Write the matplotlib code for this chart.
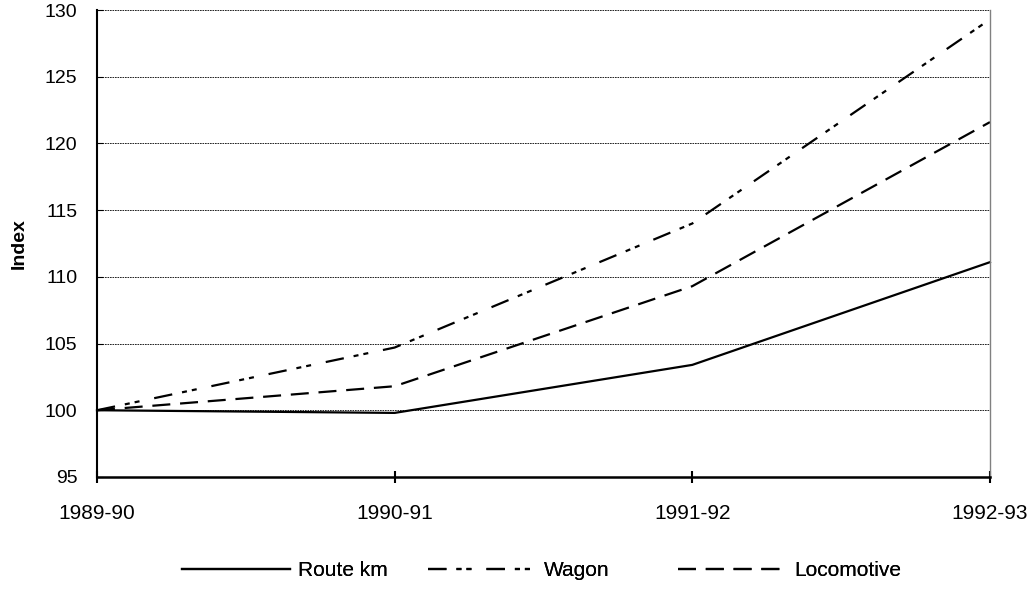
import matplotlib.pyplot as plt

plt.rcParams['font.family'] = ['Liberation Sans', 'DejaVu Sans']

years = ['1989-90', '1990-91', '1991-92', '1992-93']
route_km = [100, 99.8, 103.4, 111.1]
wagon = [100, 104.7, 114.0, 129.3]
locomotive = [100, 101.8, 109.3, 121.6]

fig = plt.figure(figsize=(10.34, 5.91), dpi=100)
ax = fig.add_axes([0.0938, 0.193, 0.8636, 0.790])
x = range(len(years))

lw = 1.6
l1, = ax.plot(x, route_km, color='black', lw=lw, label='Route km', clip_on=False)
l2, = ax.plot(x, wagon, color='black', lw=lw, dashes=(8.3, 4.5, 2.25, 2.25, 2.25, 6.75),
              label='Wagon', clip_on=False)
l3, = ax.plot(x, locomotive, color='black', lw=lw, dashes=(8.1, 4.4), label='Locomotive', clip_on=False)

ax.set_xlim(0, 3)
ax.set_ylim(95, 130)
ax.set_xticks(list(x))
ax.set_xticklabels(years, fontsize=15)
ax.set_yticks(range(95, 131, 5))
ax.tick_params(axis='y', labelsize=14, direction='in', length=4, pad=14)
ax.tick_params(axis='x', direction='inout', length=9, width=1.5, pad=15)
ax.set_ylabel('Index', fontsize=14, fontweight='bold')
ax.yaxis.set_label_coords(-0.078, 0.5)

ax.grid(axis='y', color='black', linestyle=(0, (2, 1)), linewidth=0.6)
ax.set_axisbelow(True)
ax.spines['left'].set_linewidth(1.5)
ax.spines['bottom'].set_linewidth(1.8)
ax.spines['top'].set_visible(False)
ax.spines['right'].set_color('grey')
ax.spines['right'].set_linewidth(1)

# Excel-style legend: three entries in fixed slots along the bottom
for line, xpos in [(l1, 0.176), (l2, 0.414), (l3, 0.656)]:
    leg = fig.legend([line], [line.get_label()], loc='center left', bbox_to_anchor=(xpos, 0.034),
                     frameon=False, fontsize=15, handlelength=5.18, handletextpad=0.39,
                     borderaxespad=0, borderpad=0)
    fig.add_artist(leg)
fig.savefig('out.png', dpi=100)
